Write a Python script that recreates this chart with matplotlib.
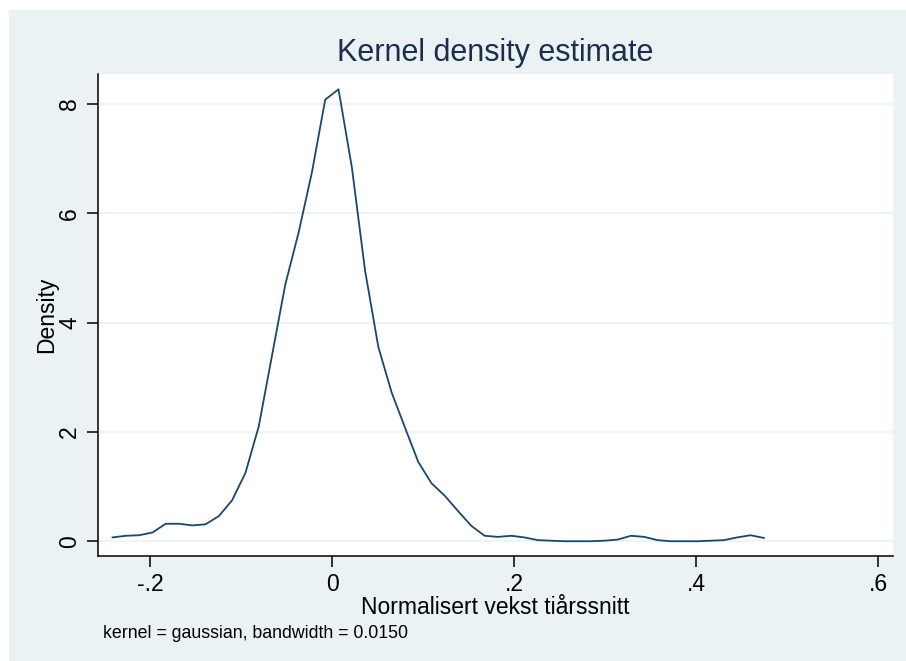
import matplotlib.pyplot as plt
from matplotlib.patches import Rectangle

# Kernel density estimate (50 grid points)
grid_x = [-0.2410, -0.2264, -0.2118, -0.1972, -0.1826, -0.1680, -0.1534, -0.1389,
          -0.1243, -0.1097, -0.0951, -0.0805, -0.0659, -0.0513, -0.0367, -0.0221,
          -0.0075, 0.0071, 0.0217, 0.0363, 0.0509, 0.0655, 0.0801, 0.0947,
          0.1093, 0.1239, 0.1385, 0.1530, 0.1676, 0.1822, 0.1968, 0.2114,
          0.2260, 0.2406, 0.2552, 0.2698, 0.2844, 0.2990, 0.3136, 0.3282,
          0.3428, 0.3574, 0.3720, 0.3866, 0.4012, 0.4158, 0.4304, 0.4450,
          0.4596, 0.4742]
density = [0.07, 0.10, 0.11, 0.16, 0.32, 0.32, 0.29, 0.31,
           0.46, 0.75, 1.25, 2.10, 3.40, 4.70, 5.65, 6.75,
           8.08, 8.27, 6.85, 4.95, 3.55, 2.72, 2.08, 1.45,
           1.06, 0.83, 0.55, 0.28, 0.10, 0.08, 0.10, 0.07,
           0.02, 0.01, 0.00, 0.00, 0.00, 0.01, 0.03, 0.10,
           0.08, 0.02, 0.00, 0.00, 0.00, 0.01, 0.02, 0.07,
           0.11, 0.06]

x_ticks = [-0.2, 0, 0.2, 0.4, 0.6]
x_ticklabels = ["-.2", "0", ".2", ".4", ".6"]
y_ticks = [0, 2, 4, 6, 8]

plt.rcParams["font.family"] = ["Liberation Sans", "DejaVu Sans"]

bg = "#EAF2F3"
fig = plt.figure(figsize=(9.06, 6.61), dpi=100, facecolor="white")
# Stata-style graph region, with thin white margin on top/left
fig.patches.append(Rectangle((9 / 906, 0), 1, 1 - 10 / 661, transform=fig.transFigure,
                             facecolor=bg, edgecolor="none", zorder=-1))

ax = fig.add_axes([98 / 906, 105 / 661, 795 / 906, 482 / 661])
ax.set_facecolor("white")
ax.plot(grid_x, density, color="#1A476F", linewidth=1.3)

ax.set_xlim(-0.257, 0.616)
ax.set_ylim(-0.27, 8.55)
ax.set_xticks(x_ticks)
ax.set_xticklabels(x_ticklabels)
ax.set_yticks(y_ticks)
ax.grid(axis="y", color=bg, linewidth=1.2)
ax.set_axisbelow(True)

for side in ["top", "right"]:
    ax.spines[side].set_visible(False)
for side in ["left", "bottom"]:
    ax.spines[side].set_linewidth(1.1)

ax.tick_params(axis="both", direction="out", length=8, width=1.1, labelsize=16.5, pad=4)
for lab in ax.get_yticklabels():
    lab.set_rotation(90)
    lab.set_va("center")

ax.set_xlabel("Normalisert vekst tiårssnitt", fontsize=16.5, labelpad=0)
ax.set_ylabel("Density", fontsize=16.5, labelpad=0)
ax.set_title("Kernel density estimate", fontsize=22, color="#1E2D4E", pad=9)

fig.text(103 / 906, 1 - 634 / 661, "kernel = gaussian, bandwidth = 0.0150",
         fontsize=12.8, va="center", ha="left")

fig.savefig("out.png", dpi=100, facecolor=fig.get_facecolor())
